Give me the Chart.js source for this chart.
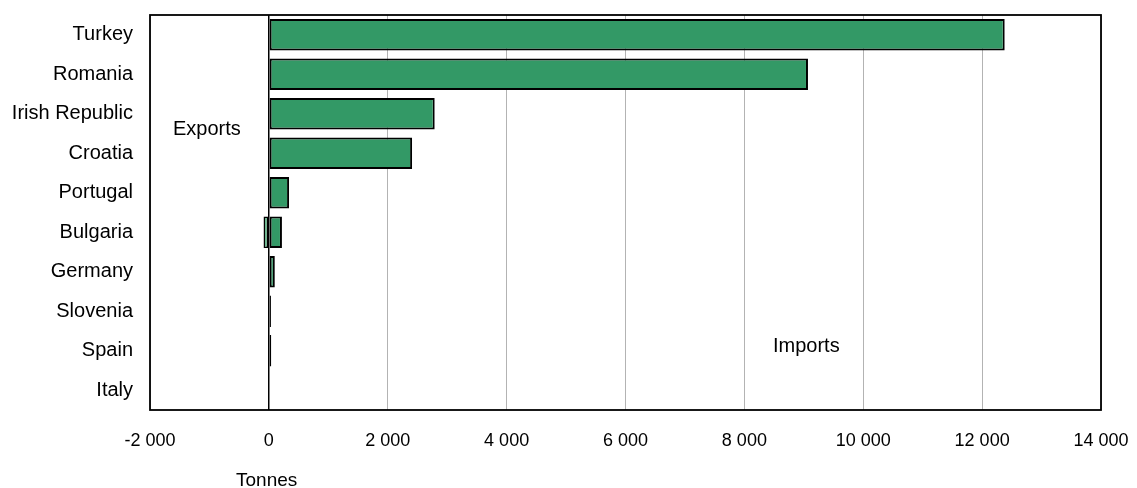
<!DOCTYPE html>
<html>
<head>
<meta charset="utf-8">
<script src="https://cdn.jsdelivr.net/npm/chart.js@4/dist/chart.umd.min.js"></script>
<style>
  html, body { margin: 0; padding: 0; background: #fff; }
  #wrap { width: 1137px; height: 488px; position: relative; }
</style>
</head>
<body>
<div id="wrap"><canvas id="tradeChart" width="1137" height="488"></canvas></div>
<script>
  // values (tonnes)
  const countries = ['Turkey', 'Romania', 'Irish Republic', 'Croatia', 'Portugal',
    'Bulgaria', 'Germany', 'Slovenia', 'Spain', 'Italy'];
  const exportsT = [null, null, null, null, null, -90, null, null, null, null];
  const importsT = [12380, 9070, 2790, 2410, 340, 220, 100, 35, 40, 0];
  const xTicks = [-2000, 0, 2000, 4000, 6000, 8000, 10000, 12000, 14000];

  const fmt = v => (v < 0 ? '-' : '') + String(Math.abs(v)).replace(/\B(?=(\d{3})+(?!\d))/g, ' ');
  const FAM = '"Liberation Sans", Arial, sans-serif';

  // frame round the plot plus the free text labels
  const extras = {
    id: 'extras',
    afterDraw(chart) {
      const { ctx, chartArea: a } = chart;
      ctx.save();
      ctx.strokeStyle = '#000';
      ctx.lineWidth = 1.8;
      ctx.strokeRect(a.left, a.top, a.right - a.left, a.bottom - a.top);
      ctx.fillStyle = '#000';
      ctx.textBaseline = 'middle';
      ctx.textAlign = 'left';
      ctx.font = '20px ' + FAM;
      ctx.fillText('Exports', 173, 129);
      ctx.fillText('Imports', 773, 346);
      ctx.font = '19px ' + FAM;
      ctx.fillText('Tonnes', 236, 481);
      ctx.restore();
    }
  };

  const tradeCtx = document.getElementById('tradeChart').getContext('2d');
  const tradeChart = new Chart(tradeCtx, {
    type: 'bar',
    data: {
      labels: countries,
      datasets: [{
        label: 'Exports',
        data: exportsT,
        backgroundColor: '#66b88c',
        borderColor: '#000',
        borderWidth: 1.5,
        borderSkipped: false,
        barPercentage: 1,
        categoryPercentage: 0.8,
      }, {
        label: 'Imports',
        data: importsT,
        backgroundColor: '#339966',
        borderColor: '#000',
        borderWidth: 2,
        borderSkipped: false,
        barPercentage: 1,
        categoryPercentage: 0.8,
      }]
    },
    options: {
      indexAxis: 'y',
      responsive: false,
      maintainAspectRatio: false,
      animation: false,
      layout: { padding: { top: 15, right: 36, left: 0, bottom: 0 } },
      plugins: { legend: { display: false }, tooltip: { enabled: false } },
      scales: {
        x: {
          stacked: true,
          min: -2000,
          max: 14000,
          afterBuildTicks: s => { s.ticks = xTicks.map(v => ({ value: v })); },
          afterFit: s => { s.height = 78; s.paddingLeft = 0; s.paddingRight = 0; },
          grid: {
            color: c => (c.tick && c.tick.value === 0 ? '#000' : '#b3b3b3'),
            lineWidth: c => (c.tick && c.tick.value === 0 ? 1.5 : 1),
            drawTicks: false,
          },
          border: { display: false },
          ticks: {
            padding: 20,
            color: '#000',
            maxRotation: 0,
            font: { family: FAM, size: 18 },
            callback: v => fmt(v),
          }
        },
        y: {
          stacked: true,
          afterFit: s => { s.width = 150; s.paddingTop = 0; s.paddingBottom = 0; },
          grid: { display: false, drawTicks: false },
          border: { display: false },
          ticks: {
            padding: 17,
            color: '#000',
            font: { family: FAM, size: 20 },
          }
        }
      }
    },
    plugins: [extras]
  });
</script>
</body>
</html>
